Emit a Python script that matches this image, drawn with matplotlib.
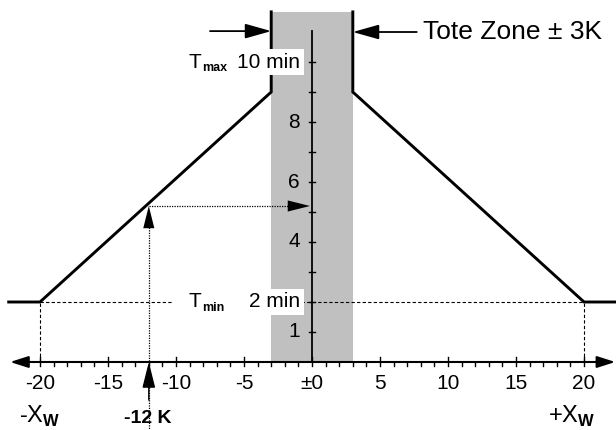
import matplotlib
matplotlib.use("Agg")
import matplotlib.pyplot as plt
from matplotlib.patches import FancyArrowPatch

plt.rcParams['font.family'] = ['Liberation Sans', 'DejaVu Sans']
plt.rcParams['mathtext.fontset'] = 'custom'
plt.rcParams['mathtext.rm'] = 'Liberation Sans'
plt.rcParams['mathtext.bf'] = 'Liberation Sans:bold'

# ---- data ----
tote_zone = 3
x_w = 20
t_min = 2
t_max = 10
zone_top = 11.67
left_curve_x = [-22.3, -20, -3, -3]
left_curve_y = [2, 2, 9, 11.67]
right_curve_x = [3, 3, 20, 22.3]
right_curve_y = [11.67, 9, 2, 2]
example_x = -12
example_y = 5.2
x_major = [-20, -15, -10, -5, 0, 5, 10, 15, 20]
x_major_labels = ['-20', '-15', '-10', '-5', '±0', '5', '10', '15', '20']
x_minor = list(range(-20, 21))
y_ticks = [1, 2, 3, 4, 5, 6, 7, 8, 9, 10]
y_labels = {1: '1', 2: '2 min', 4: '4', 6: '6', 8: '8', 10: '10 min'}

fig = plt.figure(figsize=(6.16, 4.30), dpi=100)
ax = fig.add_axes([0, 0, 1, 1])
ax.set_xlim(-22.94, 22.35)
ax.set_ylim(-2.267, 12.067)
ax.axis('off')

# gray tote zone
ax.fill_between([-tote_zone, tote_zone], 0, zone_top, color='#c0c0c0', lw=0, zorder=1)

# curve
ax.plot(left_curve_x, left_curve_y, color='black', lw=2.1, solid_joinstyle='miter', zorder=5)
ax.plot(right_curve_x, right_curve_y, color='black', lw=2.1, solid_joinstyle='miter', zorder=5)

# dashed T_min lines
ax.plot([-x_w, -10.2], [t_min, t_min], color='black', lw=0.8, ls=(0, (3, 2)), zorder=3)
ax.plot([-0.8, x_w], [t_min, t_min], color='black', lw=0.8, ls=(0, (3, 2)), zorder=3)
ax.plot([-x_w, -x_w], [0, t_min], color='black', lw=0.8, ls=(0, (3, 2)), zorder=3)
ax.plot([x_w, x_w], [0, t_min], color='black', lw=0.8, ls=(0, (3, 2)), zorder=3)

# y axis
ax.plot([0, 0], [0, 11.03], color='black', lw=1.3, zorder=4)
for yt in y_ticks:
    ax.plot([-0.22, 0.22], [yt, yt], color='black', lw=1.0, zorder=4)
for yt, lab in y_labels.items():
    bb = dict(facecolor='white', edgecolor='none', pad=2.5) if 'min' in lab else None
    ax.text(-0.88, yt, lab, ha='right', va='center', fontsize=15, zorder=6, bbox=bb)

for yv, sub in [(t_max, 'max'), (t_min, 'min')]:
    ax.text(-9.05, yv, 'T', ha='left', va='center', fontsize=15, zorder=6)
    ax.text(-8.05, yv - 0.2, sub, ha='left', va='center', fontsize=9, fontweight='bold', zorder=6)

# x axis with arrows
ax.add_patch(FancyArrowPatch((-22.2, 0), (22.3, 0), arrowstyle='<|-|>,head_length=1.1,head_width=0.35',
                             mutation_scale=10, color='black', lw=1.5, shrinkA=0, shrinkB=0, zorder=4))
for xt in x_minor:
    if xt in x_major:
        ax.plot([xt, xt], [-0.13, 0.17], color='black', lw=1.0, zorder=4)
    else:
        ax.plot([xt, xt], [-0.13, 0], color='black', lw=1.0, zorder=4)
for xt, lab in zip(x_major, x_major_labels):
    ax.text(xt, -0.72, lab, ha='center', va='center', fontsize=15, zorder=6)

ax.text(-x_w, -1.82, r'-X$_{\mathbf{W}}$', ha='center', va='center', fontsize=17)
ax.text(19.1, -1.82, r'+X$_{\mathbf{W}}$', ha='center', va='center', fontsize=17)
ax.text(example_x - 0.1, -1.9, '-12 K', ha='center', va='center', fontsize=14, fontweight='bold')

# example arrows
ax.plot([example_x, example_x], [-2.3, example_y - 0.3], color='black', lw=0.9, ls=(0, (1, 1)), zorder=3)
ax.add_patch(FancyArrowPatch((example_x, example_y - 0.8), (example_x, example_y),
                             arrowstyle='-|>,head_length=1.6,head_width=0.4', mutation_scale=10,
                             color='black', lw=0, shrinkA=0, shrinkB=0, zorder=5))
ax.add_patch(FancyArrowPatch((example_x, -1.27), (example_x, 0),
                             arrowstyle='-|>,head_length=1.6,head_width=0.4', mutation_scale=10,
                             color='black', lw=1.0, shrinkA=0, shrinkB=0, zorder=5))
ax.plot([example_x, -1.0], [example_y, example_y], color='black', lw=0.9, ls=(0, (1, 1)), zorder=3)
ax.add_patch(FancyArrowPatch((-2.0, example_y), (-0.15, example_y),
                             arrowstyle='-|>,head_length=1.6,head_width=0.4', mutation_scale=10,
                             color='black', lw=0, shrinkA=0, shrinkB=0, zorder=5))

# tote zone arrows
ax.add_patch(FancyArrowPatch((-7.5, 11.03), (-tote_zone, 11.03),
                             arrowstyle='-|>,head_length=1.6,head_width=0.45', mutation_scale=10,
                             color='black', lw=1.3, shrinkA=0, shrinkB=0, zorder=5))
ax.add_patch(FancyArrowPatch((7.7, 11.0), (tote_zone, 11.0),
                             arrowstyle='-|>,head_length=1.6,head_width=0.45', mutation_scale=10,
                             color='black', lw=1.3, shrinkA=0, shrinkB=0, zorder=5))
ax.text(8.16, 11.0, 'Tote Zone ± 3K', ha='left', va='center', fontsize=19)

fig.savefig('out.png', dpi=100)
